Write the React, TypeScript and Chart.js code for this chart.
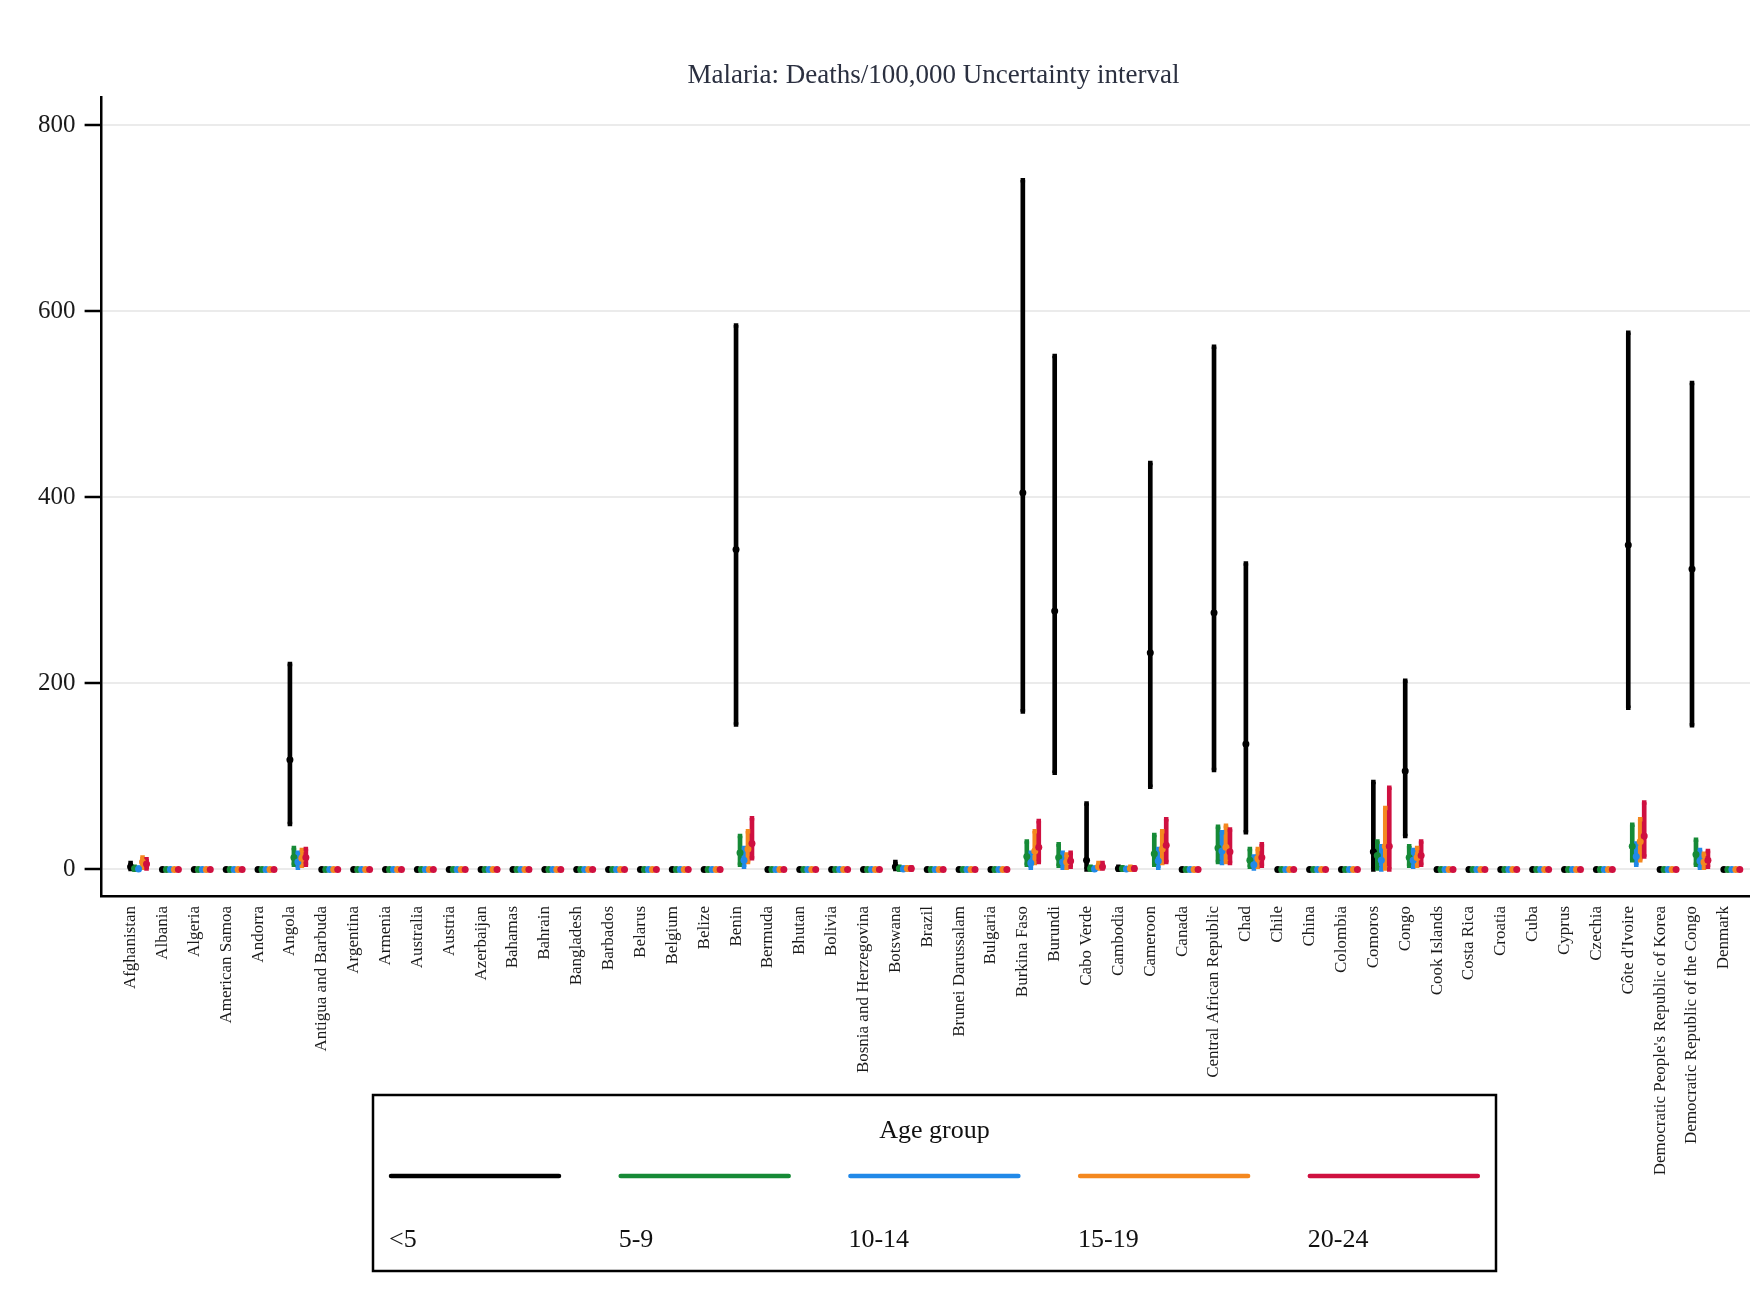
import React, { useEffect, useRef } from "react";
import { Chart, registerables } from "chart.js";

Chart.register(...registerables);

const chartTitle = "Malaria: Deaths/100,000 Uncertainty interval";
const legendTitle = "Age group";

const countries = [
  "Afghanistan", "Albania", "Algeria", "American Samoa", "Andorra", "Angola",
  "Antigua and Barbuda", "Argentina", "Armenia", "Australia", "Austria", "Azerbaijan",
  "Bahamas", "Bahrain", "Bangladesh", "Barbados", "Belarus", "Belgium", "Belize",
  "Benin", "Bermuda", "Bhutan", "Bolivia", "Bosnia and Herzegovina", "Botswana",
  "Brazil", "Brunei Darussalam", "Bulgaria", "Burkina Faso", "Burundi", "Cabo Verde",
  "Cambodia", "Cameroon", "Canada", "Central African Republic", "Chad", "Chile",
  "China", "Colombia", "Comoros", "Congo", "Cook Islands", "Costa Rica", "Croatia",
  "Cuba", "Cyprus", "Czechia", "Côte d'Ivoire", "Democratic People's Republic of Korea",
  "Democratic Republic of the Congo", "Denmark",
];

const ageGroups = ["<5", "5-9", "10-14", "15-19", "20-24"];
const ageColors = ["#000000", "#168a36", "#2189e8", "#f4881f", "#cf1040"];

const yTicks = [0, 200, 400, 600, 800];

// index:            0   1  2  3  4   5   6  7  8  9 10 11 12 13 14 15 16 17 18   19 20 21 22 23  24 25 26 27   28   29  30 31   32 33   34   35 36 37 38  39   40 41 42 43 44 45 46   47 48   49 50
const under5Low  = [0.5, 0, 0, 0, 0, 49, 0, 0, 0, 0, 0, 0, 0, 0, 0, 0, 0, 0, 0, 156, 0, 0, 0, 0, 0.5, 0, 0, 0, 170, 104, 0, 0, 89, 0, 107, 40, 0, 0, 0, 0, 36, 0, 0, 0, 0, 0, 0, 174, 0, 155, 0];
const under5Est  = [3, 0, 0, 0, 0, 118, 0, 0, 0, 0, 0, 0, 0, 0, 0, 0, 0, 0, 0, 344, 0, 0, 0, 0, 3, 0, 0, 0, 405, 278, 10, 1, 233, 0, 276, 135, 0, 0, 0, 19, 106, 0, 0, 0, 0, 0, 0, 349, 0, 323, 0];
const under5High = [7, 0, 0, 0, 0, 221, 0, 0, 0, 0, 0, 0, 0, 0, 0, 0, 0, 0, 0, 585, 0, 0, 0, 0, 8, 0, 0, 0, 741, 552, 71, 3, 437, 0, 562, 329, 0, 0, 0, 94, 203, 0, 0, 0, 0, 0, 0, 577, 0, 523, 0];

const age5to9Low  = [0, 0, 0, 0, 0, 5, 0, 0, 0, 0, 0, 0, 0, 0, 0, 0, 0, 0, 0, 5, 0, 0, 0, 0, 0, 0, 0, 0, 5, 4, 0, 0, 5, 0, 8, 3, 0, 0, 0, 1, 4, 0, 0, 0, 0, 0, 0, 10, 0, 5, 0];
const age5to9Est  = [1, 0, 0, 0, 0, 13, 0, 0, 0, 0, 0, 0, 0, 0, 0, 0, 0, 0, 0, 18, 0, 0, 0, 0, 1, 0, 0, 0, 14, 13, 1, 1, 17, 0, 23, 10, 0, 0, 0, 15, 13, 0, 0, 0, 0, 0, 0, 25, 0, 16, 0];
const age5to9High = [3, 0, 0, 0, 0, 23, 0, 0, 0, 0, 0, 0, 0, 0, 0, 0, 0, 0, 0, 36, 0, 0, 0, 0, 3, 0, 0, 0, 30, 27, 3, 2, 37, 0, 46, 22, 0, 0, 0, 30, 25, 0, 0, 0, 0, 0, 0, 48, 0, 32, 0];

const age10to14Low  = [0, 0, 0, 0, 0, 2, 0, 0, 0, 0, 0, 0, 0, 0, 0, 0, 0, 0, 0, 3, 0, 0, 0, 0, 0, 0, 0, 0, 2, 2, 0, 0, 2, 0, 7, 1, 0, 0, 0, 0, 3, 0, 0, 0, 0, 0, 0, 5, 0, 2, 0];
const age10to14Est  = [0.5, 0, 0, 0, 0, 8, 0, 0, 0, 0, 0, 0, 0, 0, 0, 0, 0, 0, 0, 10, 0, 0, 0, 0, 0.5, 0, 0, 0, 7, 8, 0.5, 0.5, 9, 0, 20, 5, 0, 0, 0, 10, 10, 0, 0, 0, 0, 0, 0, 14, 0, 9, 0];
const age10to14High = [2, 0, 0, 0, 0, 18, 0, 0, 0, 0, 0, 0, 0, 0, 0, 0, 0, 0, 0, 23, 0, 0, 0, 0, 2, 0, 0, 0, 18, 18, 2, 1, 22, 0, 40, 14, 0, 0, 0, 25, 21, 0, 0, 0, 0, 0, 0, 28, 0, 21, 0];

const age15to19Low  = [2, 0, 0, 0, 0, 4, 0, 0, 0, 0, 0, 0, 0, 0, 0, 0, 0, 0, 0, 8, 0, 0, 0, 0, 0, 0, 0, 0, 7, 2, 1, 0, 7, 0, 8, 3, 0, 0, 0, 1, 4, 0, 0, 0, 0, 0, 0, 10, 0, 2, 0];
const age15to19Est  = [8, 0, 0, 0, 0, 12, 0, 0, 0, 0, 0, 0, 0, 0, 0, 0, 0, 0, 0, 22, 0, 0, 0, 0, 1, 0, 0, 0, 20, 8, 3, 1, 22, 0, 24, 12, 0, 0, 0, 25, 13, 0, 0, 0, 0, 0, 0, 30, 0, 8, 0];
const age15to19High = [13, 0, 0, 0, 0, 21, 0, 0, 0, 0, 0, 0, 0, 0, 0, 0, 0, 0, 0, 41, 0, 0, 0, 0, 2, 0, 0, 0, 41, 16, 7, 3, 41, 0, 47, 22, 0, 0, 0, 66, 23, 0, 0, 0, 0, 0, 0, 54, 0, 17, 0];

const age20to24Low  = [1, 0, 0, 0, 0, 5, 0, 0, 0, 0, 0, 0, 0, 0, 0, 0, 0, 0, 0, 12, 0, 0, 0, 0, 0, 0, 0, 0, 8, 3, 1, 0, 8, 0, 7, 4, 0, 0, 0, 0, 5, 0, 0, 0, 0, 0, 0, 14, 0, 3, 0];
const age20to24Est  = [6, 0, 0, 0, 0, 13, 0, 0, 0, 0, 0, 0, 0, 0, 0, 0, 0, 0, 0, 28, 0, 0, 0, 0, 1, 0, 0, 0, 24, 9, 3, 1, 26, 0, 19, 13, 0, 0, 0, 25, 15, 0, 0, 0, 0, 0, 0, 36, 0, 10, 0];
const age20to24High = [11, 0, 0, 0, 0, 22, 0, 0, 0, 0, 0, 0, 0, 0, 0, 0, 0, 0, 0, 55, 0, 0, 0, 0, 2, 0, 0, 0, 52, 18, 7, 2, 54, 0, 43, 27, 0, 0, 0, 88, 30, 0, 0, 0, 0, 0, 0, 72, 0, 20, 0];

const lows = [under5Low, age5to9Low, age10to14Low, age15to19Low, age20to24Low];
const ests = [under5Est, age5to9Est, age10to14Est, age15to19Est, age20to24Est];
const highs = [under5High, age5to9High, age10to14High, age15to19High, age20to24High];

const W = 1750;
const H = 1289;
const SERIF = "'Liberation Serif', 'Times New Roman', serif";
const GROUP_OFFSET = 0.125;

const annotationPlugin = {
  id: "titleAndLegend",
  afterDraw(chart: any) {
    const ctx = chart.ctx;
    ctx.save();
    // title
    ctx.fillStyle = "#2b3040";
    ctx.font = `27px ${SERIF}`;
    ctx.textAlign = "center";
    ctx.textBaseline = "middle";
    ctx.fillText(chartTitle, 933.5, 76);

    // legend
    const box = { x: 373, y: 1095, w: 1123, h: 176 };
    ctx.strokeStyle = "#000";
    ctx.lineWidth = 2.5;
    ctx.strokeRect(box.x, box.y, box.w, box.h);
    ctx.fillStyle = "#111";
    ctx.font = `26px ${SERIF}`;
    ctx.textAlign = "center";
    ctx.fillText(legendTitle, box.x + box.w / 2, 1131);
    ageGroups.forEach((label, k) => {
      const x0 = 391 + k * 229.7;
      ctx.strokeStyle = ageColors[k];
      ctx.lineWidth = 4.5;
      ctx.lineCap = "round";
      ctx.beginPath();
      ctx.moveTo(x0, 1176);
      ctx.lineTo(x0 + 168, 1176);
      ctx.stroke();
      ctx.fillStyle = "#111";
      ctx.textAlign = "left";
      ctx.fillText(label, x0 - 2, 1240);
    });
    ctx.restore();
  },
};

export default function App() {
  const ref = useRef<HTMLCanvasElement | null>(null);

  useEffect(() => {
    if (!ref.current) return;
    const datasets: any[] = [];
    ageGroups.forEach((label, k) => {
      datasets.push({
        type: "bar",
        label,
        data: countries.map((_, i) => ({ x: i + k * GROUP_OFFSET, y: [lows[k][i], highs[k][i]] })),
        backgroundColor: ageColors[k],
        borderWidth: 0,
        barThickness: 4,
        grouped: false,
        order: 100 - k,
      });
    });
    ageGroups.forEach((label, k) => {
      datasets.push({
        type: "scatter",
        label: label + " bounds",
        data: countries
          .map((_, i) => ({ x: i + k * GROUP_OFFSET, y: lows[k][i] }))
          .concat(countries.map((_, i) => ({ x: i + k * GROUP_OFFSET, y: highs[k][i] }))),
        pointStyle: "rect",
        pointRadius: 3.2,
        backgroundColor: ageColors[k],
        borderWidth: 0,
        order: 50 - k,
      });
      datasets.push({
        type: "scatter",
        label: label + " estimate",
        data: countries.map((_, i) => ({ x: i + k * GROUP_OFFSET, y: ests[k][i] })),
        pointStyle: "circle",
        pointRadius: 3.5,
        backgroundColor: ageColors[k],
        borderWidth: 0,
        order: 40 - k,
      });
    });

    const chart = new Chart(ref.current, {
      type: "bar",
      data: { datasets },
      plugins: [annotationPlugin],
      options: {
        animation: false,
        responsive: false,
        devicePixelRatio: 1,
        layout: { autoPadding: false, padding: { top: 97, left: 0, right: 0, bottom: 0 } },
        plugins: {
          legend: { display: false },
          tooltip: { enabled: false },
          title: { display: false },
        },
        scales: {
          x: {
            type: "linear",
            min: -0.91,
            max: 50.82,
            offset: false,
            grid: { display: false, drawTicks: false, offset: false },
            border: { display: true, color: "#000", width: 2.5 },
            afterBuildTicks: (scale: any) => {
              scale.ticks = countries.map((_, i) => ({ value: i }));
            },
            afterFit: (scale: any) => {
              scale.height = 393;
              scale.paddingLeft = 0;
              scale.paddingRight = 0;
            },
            ticks: {
              autoSkip: false,
              minRotation: 90,
              maxRotation: 90,
              padding: 10,
              color: "#1a1a1a",
              font: { family: SERIF, size: 17 },
              callback: (_v: any, idx: number) => countries[idx],
            },
          },
          y: {
            type: "linear",
            min: -28.5,
            max: 830.6,
            grid: {
              color: "#ebebeb",
              lineWidth: 2,
              drawTicks: true,
              tickLength: 17,
              tickColor: "#000",
              tickWidth: 2.5,
            },
            border: { display: true, color: "#000", width: 2.5 },
            afterBuildTicks: (scale: any) => {
              scale.ticks = yTicks.map((v) => ({ value: v }));
            },
            afterFit: (scale: any) => {
              scale.width = 101.6;
              scale.paddingTop = 0;
              scale.paddingBottom = 0;
            },
            ticks: {
              padding: 9,
              color: "#1a1a1a",
              font: { family: SERIF, size: 25 },
              callback: (v: any) => String(v),
            },
          },
        },
      } as any,
    });
    return () => chart.destroy();
  }, []);

  return (
    <div style={{ position: "absolute", left: 0, top: 0, width: W, height: H, background: "#fff" }}>
      <canvas ref={ref} width={W} height={H} style={{ width: W, height: H, display: "block" }} />
    </div>
  );
}
